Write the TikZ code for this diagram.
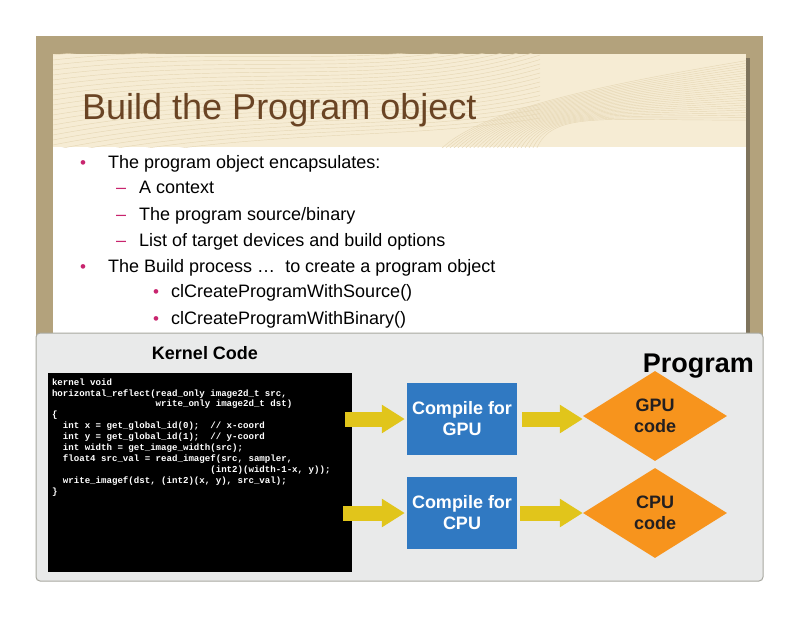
\documentclass[tikz,border=0pt]{standalone}
\usepackage{fontspec}
\setmainfont{Liberation Sans}
\setmonofont{Liberation Mono}
\usetikzlibrary{shapes.geometric,arrows.meta}

\definecolor{tanframe}{HTML}{B3A27C}
\definecolor{creamband}{HTML}{F6ECD4}
\definecolor{wavetan}{HTML}{E6D7B5}
\definecolor{slideshadow}{HTML}{7E735C}
\definecolor{titlebrown}{HTML}{6A4424}
\definecolor{bulletpink}{HTML}{C8246E}
\definecolor{panelgray}{HTML}{E9EAEA}
\definecolor{panelline}{HTML}{A8A8A0}
\definecolor{boxblue}{HTML}{3079C2}
\definecolor{codeorange}{HTML}{F7941D}
\definecolor{arrowyellow}{HTML}{E1C51B}
\definecolor{darktext}{HTML}{231F20}

% indent code lines by n characters
\newcommand\ind[1]{\hspace*{\dimexpr 0.6em*#1\relax}}

\tikzset{
  wave/.style={draw=wavetan, line width=0.45pt},
  bul/.style={text=bulletpink, font=\fontsize{17}{17}\selectfont, inner sep=0pt, anchor=base},
  dsh/.style={text=bulletpink, font=\fontsize{18}{21}\selectfont, inner sep=0pt, anchor=base west},
  item/.style={font=\fontsize{18}{21}\selectfont, inner sep=0pt, anchor=base west},
  compilebox/.style={fill=boxblue, minimum width=110pt, minimum height=72pt, align=center,
    text=white, font=\fontsize{18}{21}\selectfont\bfseries, inner sep=0pt},
  codeout/.style={diamond, fill=codeorange, minimum width=144pt, minimum height=90pt, align=center,
    text=darktext, font=\fontsize{18}{21}\selectfont\bfseries, inner sep=0pt},
  flow/.style={draw=arrowyellow, line width=15pt, -{Triangle[length=23pt,width=27pt]}},
}

\begin{document}
\begin{tikzpicture}[x=1pt,y=-1pt]
  \useasboundingbox (0,0) rectangle (800,618);
  \fill[white] (0,0) rectangle (800,618);

  % slide frame and title band
  \fill[tanframe] (36,36) rectangle (763,400);
  \fill[slideshadow] (746,58) rectangle (750,340);
  \fill[white] (53,147) rectangle (746,340);
  \fill[creamband] (53,54) rectangle (746,147);
  \begin{scope}
    \clip (53,54) rectangle (746,147);
    \foreach \i in {0,...,24}
      \draw[wave] (53,50+\i*5) .. controls (250,30+\i*4) and (400,70+\i*3) .. (540,10+\i*4.5);
    \foreach \i in {0,...,24}
      \draw[wave] (440+\i*4,150) .. controls (480+\i*3,110) and (600,85+\i*1.5) .. (750,60+\i*2.5);
  \end{scope}
  \node[anchor=base west, inner sep=0pt, text=titlebrown, font=\fontsize{36}{40}\selectfont] (title) at (82,119) {Build the Program object};

  % bullet list
  \node[bul] (b1) at (83,168) {•};
  \node[item] (t1) at (108,168) {The program object encapsulates:};
  \node[dsh] (d1) at (116,193.5) {–};
  \node[item] (t2) at (139,193.5) {A context};
  \node[dsh] (d2) at (116,220) {–};
  \node[item] (t3) at (139,220) {The program source/binary};
  \node[dsh] (d3) at (116,246) {–};
  \node[item] (t4) at (139,246) {List of target devices and build options};
  \node[bul] (b2) at (83,272) {•};
  \node[item] (t5) at (108,272) {The Build process …\ \ to create a program object};
  \node[bul] (b3) at (156,297.5) {•};
  \node[item] (t6) at (171,297.5) {clCreateProgramWithSource()};
  \node[bul] (b4) at (156,324) {•};
  \node[item] (t7) at (171,324) {clCreateProgramWithBinary()};

  % program panel
  \filldraw[fill=panelgray, draw=panelline, line width=1pt, rounded corners=4pt] (36,333) rectangle (763,581);
  \node[font=\fontsize{18}{21}\selectfont\bfseries, text=black] (kc) at (205,353) {Kernel Code};
  \node[fill=black, minimum width=304pt, minimum height=199pt, inner sep=0pt] (code) at (200,472.5) {};
  \node[anchor=north west, inner sep=0pt, align=left, text=white,
        font=\fontsize{9.1}{10.9}\selectfont\ttfamily\bfseries] (src)
        at ([shift={(4pt,-5.5pt)}]code.north west) {%
kernel void\\
horizontal\_reflect(read\_only image2d\_t src,\\
\ind{19}write\_only image2d\_t dst)\\
\{\\
\ind{2}int x = get\_global\_id(0);\ind{2}// x-coord\\
\ind{2}int y = get\_global\_id(1);\ind{2}// y-coord\\
\ind{2}int width = get\_image\_width(src);\\
\ind{2}float4 src\_val = read\_imagef(src, sampler,\\
\ind{29}(int2)(width-1-x, y));\\
\ind{2}write\_imagef(dst, (int2)(x, y), src\_val);\\
\}};

  \node[compilebox] (cgpu) at (462,419) {Compile for\\GPU};
  \node[compilebox] (ccpu) at (462,513) {Compile for\\CPU};
  \node[codeout] (gcode) at (655,416) {GPU\\code};
  \node[codeout] (ccode) at (655,513) {CPU\\code};

  \coordinate (in1) at (345,419);
  \coordinate (in2) at (343,513);
  \draw[flow] (in1) -- ([xshift=-2pt]cgpu.west);
  \draw[flow] ([xshift=5pt]cgpu.east) -- (gcode.west |- cgpu.east);
  \draw[flow] (in2) -- ([xshift=-2pt]ccpu.west);
  \draw[flow] ([xshift=3pt]ccpu.east) -- (ccode.west);

  \node[anchor=base east, inner sep=0pt, font=\fontsize{27}{30}\selectfont\bfseries, text=black] (prog) at (754,372) {Program};
\end{tikzpicture}
\end{document}
